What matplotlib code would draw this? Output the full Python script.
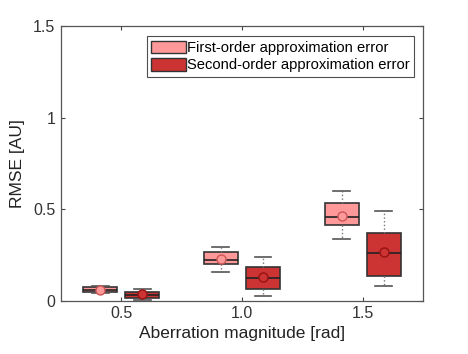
import matplotlib.pyplot as plt
from matplotlib.patches import Patch

plt.rcParams["font.family"] = ["Liberation Sans", "DejaVu Sans"]

# values
magnitudes = [0.5, 1.0, 1.5]
series = ["First-order approximation error", "Second-order approximation error"]
colors = ["#FF9999", "#CC3333"]
mean_edges = ["#CC5555", "#991111"]

whislo = [[0.044, 0.158, 0.338], [0.005, 0.026, 0.083]]
q1 = [[0.047, 0.200, 0.413], [0.015, 0.065, 0.138]]
med = [[0.060, 0.222, 0.457], [0.033, 0.127, 0.262]]
mean = [[0.060, 0.227, 0.464], [0.035, 0.128, 0.264]]
q3 = [[0.075, 0.267, 0.536], [0.051, 0.184, 0.369]]
whishi = [[0.080, 0.296, 0.602], [0.064, 0.242, 0.491]]

fig = plt.figure(figsize=(4.68, 3.54), dpi=100)
ax = fig.add_axes([0.130, 0.150, 0.774, 0.777])

offsets = [-0.087, 0.087]
for s in range(2):
    stats = []
    for i in range(3):
        stats.append(dict(whislo=whislo[s][i], q1=q1[s][i], med=med[s][i],
                          mean=mean[s][i], q3=q3[s][i], whishi=whishi[s][i],
                          fliers=[]))
    pos = [m + offsets[s] for m in magnitudes]
    ax.bxp(stats, positions=pos, widths=0.14, capwidths=0.07,
           patch_artist=True, showmeans=True, manage_ticks=False,
           boxprops=dict(facecolor=colors[s], edgecolor="#333333", linewidth=1.2),
           medianprops=dict(color="#222222", linewidth=1.2),
           whiskerprops=dict(color="#777777", linestyle=":", linewidth=1.0),
           capprops=dict(color="#555555", linewidth=1.2),
           meanprops=dict(marker="o", markerfacecolor=colors[s],
                          markeredgecolor=mean_edges[s], markersize=6.5))

ax.set_xlim(0.25, 1.75)
ax.set_ylim(0, 1.5)
ax.set_xticks(magnitudes)
ax.set_xticklabels(["0.5", "1.0", "1.5"])
ax.set_yticks([0, 0.5, 1, 1.5])
ax.set_yticklabels(["0", "0.5", "1", "1.5"])
ax.tick_params(direction="in", top=True, right=True, length=3,
               labelsize=11.5, colors="#444444", labelcolor="#333333", pad=4)
for sp in ax.spines.values():
    sp.set_color("#555555")
    sp.set_linewidth(0.9)

ax.set_xlabel("Aberration magnitude [rad]", fontsize=12.5, color="#222222", labelpad=3)
ax.set_ylabel("RMSE [AU]", fontsize=12.5, color="#222222", labelpad=6)

handles = [Patch(facecolor=colors[s], edgecolor="#333333", linewidth=1.0) for s in range(2)]
leg = ax.legend(handles, series, loc="upper right", bbox_to_anchor=(0.976, 0.962),
                fontsize=10.6, frameon=True, fancybox=False, borderpad=0.3,
                handlelength=2.4, handleheight=0.95, handletextpad=0.05,
                labelspacing=0.2, borderaxespad=0)
leg.get_frame().set_edgecolor("#222222")
leg.get_frame().set_linewidth(0.8)

fig.savefig("out.png", dpi=100)
